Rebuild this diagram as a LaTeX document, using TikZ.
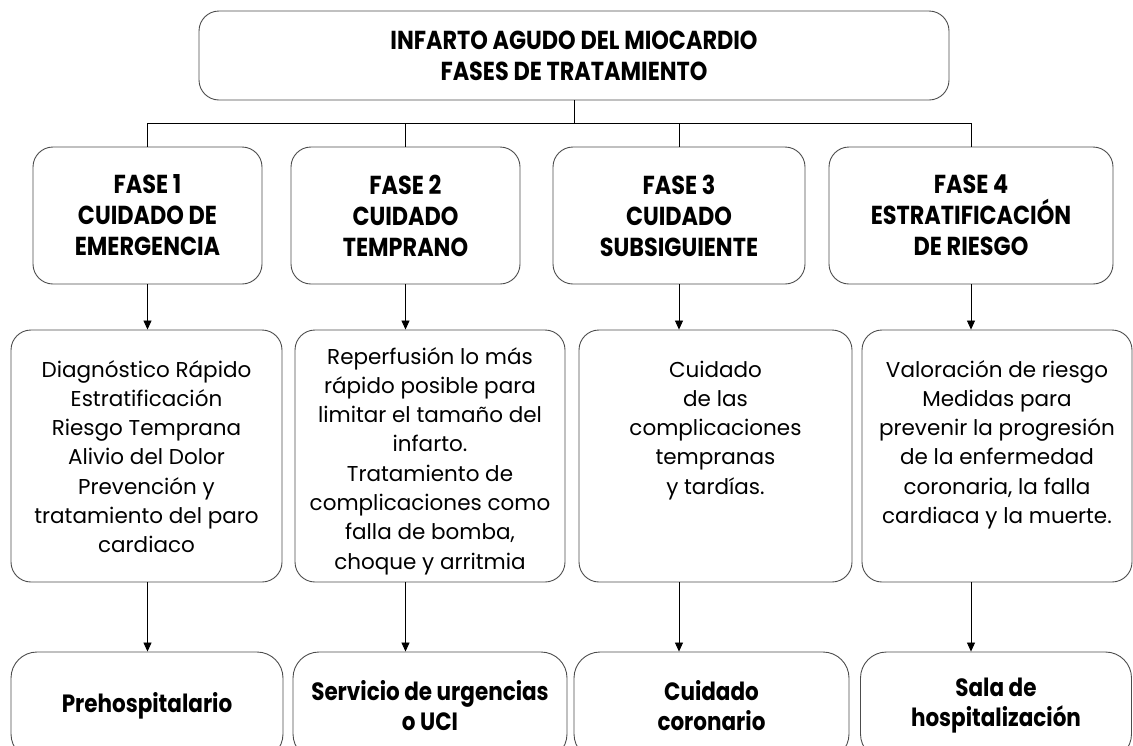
\documentclass[tikz,border=0pt]{standalone}
\usepackage{fontspec}
\setmainfont{Poppins}
\newfontfamily\hdfont{Poppins}[FakeStretch=0.86]
\usetikzlibrary{arrows.meta}
\begin{document}
\begin{tikzpicture}[x=1pt,y=-1pt,
  box/.style={draw=black!70, line width=0.9pt, rounded corners=20pt, inner sep=0pt, align=center},
  hd/.style={font=\hdfont\bfseries\fontsize{26}{31}\selectfont},
  bt/.style={font=\hdfont\bfseries\fontsize{25}{30}\selectfont},
  mt/.style={font=\fontsize{21.5}{29.3}\selectfont, inner sep=0pt, anchor=base},
  con/.style={line width=0.8pt, black},
  arr/.style={con, -{Triangle[length=9pt,width=8pt]}}
]
\useasboundingbox (0,0) rectangle (1133,745);
% title
\node[box, hd, minimum width=750pt, minimum height=89pt] (top) at (574,55.5)
  {INFARTO AGUDO DEL MIOCARDIO\\FASES DE TRATAMIENTO};
% phases
\node[box, hd, minimum width=229pt, minimum height=137pt] (p1) at (147.5,215.5) {FASE 1\\CUIDADO DE\\EMERGENCIA};
\node[box, hd, minimum width=229pt, minimum height=137pt] (p2) at (405.5,215.5) {FASE 2\\CUIDADO\\TEMPRANO};
\node[box, hd, minimum width=252pt, minimum height=137pt] (p3) at (679,215.5) {FASE 3\\CUIDADO\\SUBSIGUIENTE};
\node[box, hd, minimum width=284pt, minimum height=137pt] (p4) at (971,215.5) {FASE 4\\ESTRATIFICACIÓN\\DE RIESGO};
% middle boxes
\node[box, minimum width=271pt, minimum height=252pt] (m1) at (146.5,456) {};
\node[box, minimum width=270pt, minimum height=252pt] (m2) at (430,456) {};
\node[box, minimum width=273pt, minimum height=252pt] (m3) at (715.5,456) {};
\node[box, minimum width=270pt, minimum height=252pt] (m4) at (997,456) {};
\node[mt] (m1t) at (146.5,377) {\begin{minipage}[t]{265pt}\centering
  Diagnóstico Rápido\\Estratificación\\Riesgo Temprana\\Alivio del Dolor\\Prevención y\\tratamiento del paro\\cardiaco\end{minipage}};
\node[mt] (m2t) at (430,364) {\begin{minipage}[t]{265pt}\centering
  Reperfusión lo más\\rápido posible para\\limitar el tamaño del\\infarto.\\Tratamiento de\\complicaciones como\\falla de bomba,\\choque y arritmia\end{minipage}};
\node[mt] (m3t) at (715.5,377) {\begin{minipage}[t]{265pt}\centering
  Cuidado\\de las\\complicaciones\\tempranas\\y tardías.\end{minipage}};
\node[mt] (m4t) at (997,377) {\begin{minipage}[t]{265pt}\centering
  Valoración de riesgo\\Medidas para\\prevenir la progresión\\de la enfermedad\\coronaria, la falla\\cardiaca y la muerte.\end{minipage}};
% bottom boxes
\node[box, bt, minimum width=272pt, minimum height=108pt, rounded corners=26pt] (b1) at (147,706) {Prehospitalario};
\node[box, bt, minimum width=274pt, minimum height=108pt, rounded corners=26pt] (b2) at (430,706) {Servicio de urgencias\\o UCI};
\node[box, bt, minimum width=275pt, minimum height=108pt, rounded corners=26pt] (b3) at (711.5,706) {Cuidado\\coronario};
\node[box, bt, minimum width=271pt, minimum height=108pt, rounded corners=26pt] (b4) at (996,706) {Sala de\\hospitalización};
% bus
\coordinate (bus) at (574,123);
\draw[con] (top.south) -- (bus);
\draw[con] (p1.north) -- (p1.north |- bus) -- (p4.north |- bus) -- (p4.north);
\draw[con] (p2.north |- bus) -- (p2.north);
\draw[con] (p3.north |- bus) -- (p3.north);
% arrows
\foreach \i in {1,2,3,4}{
  \draw[arr] (p\i.south) -- (p\i.south |- m\i.north);
  \draw[arr] (p\i.south |- m\i.south) -- (p\i.south |- b\i.north);
}
\end{tikzpicture}
\end{document}
